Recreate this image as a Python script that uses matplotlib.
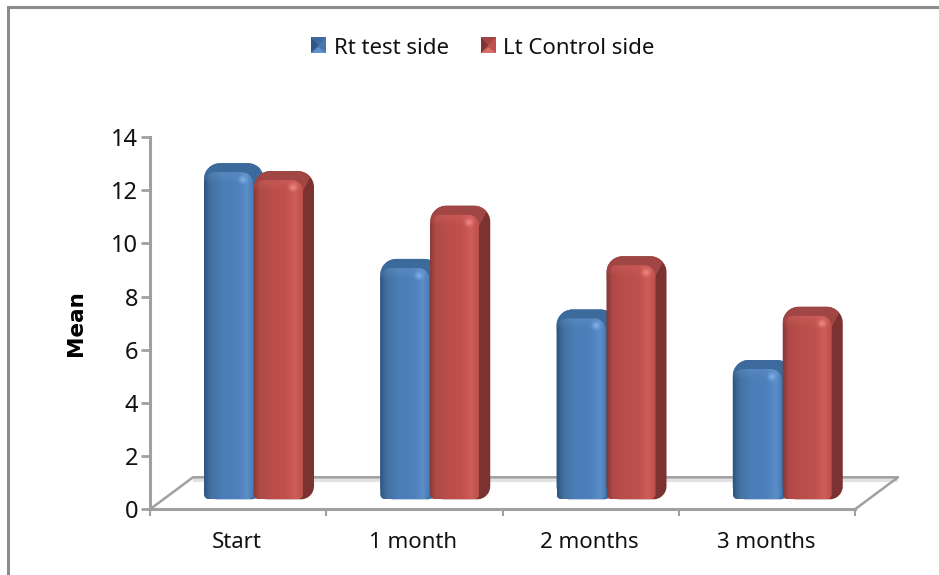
import numpy as np
import matplotlib
matplotlib.use("Agg")
import matplotlib.pyplot as plt
from matplotlib.path import Path
from matplotlib.patches import PathPatch, Polygon
from matplotlib.lines import Line2D

categories = ["Start", "1 month", "2 months", "3 months"]
rt_test = [12.3, 8.7, 6.8, 4.9]
lt_control = [12.0, 10.7, 8.8, 6.9]
series_names = ["Rt test side", "Lt Control side"]
y_ticks = [0, 2, 4, 6, 8, 10, 12, 14]

W, H = 939, 575
L, R, T, B = 150, 855, 137, 509.3
plt.rcParams['font.family'] = ['Noto Sans', 'DejaVu Sans']
fig = plt.figure(figsize=(W/100, H/100), dpi=100, facecolor='white')

# outer frame: only top and left edges are visible
fig.add_artist(Line2D([7.5/W, 7.5/W, 1], [0, 1-6.5/H, 1-6.5/H], color='#8c8c8c', lw=2.2,
                      solid_joinstyle='miter'))

ax = fig.add_axes([L/W, 1-B/H, (R-L)/W, (B-T)/H])
ax.set_xlim(0, 4); ax.set_ylim(0, 14)
ax.set_facecolor('none')

px = 4/(R-L)          # data per pixel, x
py = 14/(B-T)         # data per pixel, y
GRAY = '#a0a0a0'

# 3D floor
floor_dx, floor_dy = 43*px, 32*py
ax.plot([floor_dx, 4+floor_dx], [floor_dy-3*py]*2, color='#e2e2e2', lw=3, clip_on=False, zorder=1.1, solid_capstyle='butt')
ax.plot([0, floor_dx, 4+floor_dx, 4], [0, floor_dy, floor_dy, 0], color=GRAY, lw=1.8, clip_on=False, zorder=1.2)


def rounded(x0, x1, y0, y1, rt=11, rb=5):
    """Rounded box path in data coordinates; radii in pixels."""
    rtx, rty, rbx, rby = rt*px, rt*py, rb*px, rb*py
    k = 0.45
    v = [(x0+rbx, y0), (x1-rbx, y0),
         (x1-rbx*k, y0), (x1, y0+rby*k), (x1, y0+rby),
         (x1, y1-rty),
         (x1, y1-rty*k), (x1-rtx*k, y1), (x1-rtx, y1),
         (x0+rtx, y1),
         (x0+rtx*k, y1), (x0, y1-rty*k), (x0, y1-rty),
         (x0, y0+rby),
         (x0, y0+rby*k), (x0+rbx*k, y0), (x0+rbx, y0), (x0+rbx, y0)]
    c = [Path.MOVETO, Path.LINETO, Path.CURVE4, Path.CURVE4, Path.CURVE4, Path.LINETO,
         Path.CURVE4, Path.CURVE4, Path.CURVE4, Path.LINETO,
         Path.CURVE4, Path.CURVE4, Path.CURVE4, Path.LINETO,
         Path.CURVE4, Path.CURVE4, Path.CURVE4, Path.CLOSEPOLY]
    return Path(v, c)


def front_gradient(colors, stops):
    xs = np.linspace(0, 1, 100)
    rgb = np.array([matplotlib.colors.to_rgb(c) for c in colors])
    return np.stack([np.interp(xs, stops, rgb[:, i]) for i in range(3)], axis=1)[None, :, :]


def draw_bar(x0, val, palette, z):
    w = 49*px
    base = 10*py
    dx, dy = 11*px, 9*py
    top = base + val
    x1 = x0 + w
    # silhouette of the extruded body, dark side colour
    sil = PathPatch(rounded(x0, x1+dx, base, top+dy, rt=16, rb=13),
                    fc=palette['side'], ec='none', zorder=z)
    ax.add_patch(sil)
    # lighter top face, clipped to the silhouette
    cap = Polygon([(x0, top-14*py), (x0, top+dy+py), (x1+dx, top+dy+py), (x1, top-11*py)],
                  closed=True, fc=palette['cap'], ec='none', zorder=z+0.1)
    ax.add_patch(cap)
    cap.set_clip_path(sil.get_path(), sil.get_transform())
    # front face with horizontal shading
    front = PathPatch(rounded(x0, x1, base, top, rt=11, rb=5), fc='none', ec='none', zorder=z+0.2)
    ax.add_patch(front)
    im = ax.imshow(front_gradient(palette['grad'], palette['stops']),
                   extent=[x0, x1, base, top], aspect='auto', origin='lower',
                   zorder=z+0.3, interpolation='bilinear')
    im.set_clip_path(front)
    # bevel band along the top
    n = 40
    hl = np.zeros((n, 1, 4))
    hl[..., :3] = matplotlib.colors.to_rgb(palette['hi'])
    hl[..., 3] = np.linspace(0, 0.35, n)[:, None]
    im2 = ax.imshow(hl, extent=[x0, x1, top-12*py, top], aspect='auto', origin='lower',
                    zorder=z+0.4, interpolation='bilinear')
    im2.set_clip_path(front)
    # specular spot in the upper right corner
    g = np.linspace(-1, 1, 31)
    gx, gy = np.meshgrid(g, g)
    spot = np.zeros((31, 31, 4))
    spot[..., :3] = matplotlib.colors.to_rgb(palette['spot'])
    spot[..., 3] = np.exp(-(gx**2+gy**2)*3.5)*0.95
    ax.imshow(spot, extent=[x1-17*px, x1-3*px, top-14*py, top-1*py], aspect='auto',
              origin='lower', zorder=z+0.5, interpolation='bilinear')
    ax.set_xlim(0, 4); ax.set_ylim(0, 14)


BLUE = dict(side='#3f6d9f', cap='#3d6a9c', hi='#6d9ad0', spot='#7fb0ea',
            grad=['#2f5580', '#44719f', '#4a7cb6', '#4f80bb', '#5b8fca', '#4a7cb6'],
            stops=[0, 0.14, 0.35, 0.7, 0.88, 1])
RED = dict(side='#7c3230', cap='#a04644', hi='#d96a66', spot='#f08a86',
           grad=['#8a3a38', '#b04a47', '#b94e4b', '#c0504d', '#cf5c58', '#bb4f4c'],
           stops=[0, 0.12, 0.35, 0.65, 0.85, 1])

offs = [54*px, 104*px]
for i, (a, b) in enumerate(zip(rt_test, lt_control)):
    draw_bar(i+offs[0], a, BLUE, 3+i*2)
    draw_bar(i+offs[1], b, RED, 4+i*2)

# axes
for s in ('top', 'right'):
    ax.spines[s].set_visible(False)
for s in ('left', 'bottom'):
    ax.spines[s].set_color(GRAY); ax.spines[s].set_linewidth(2.2); ax.spines[s].set_zorder(20)
ax.set_yticks(y_ticks)
ax.set_xticks(range(5)); ax.set_xticklabels([])
ax.tick_params(axis='y', length=6.5, width=2, color=GRAY, labelsize=17, pad=2, labelcolor='#111111')
ax.tick_params(axis='x', length=5, width=1.5, color=GRAY)
for i, c in enumerate(categories):
    ax.annotate(c, xy=(i+0.5, 0), xycoords='data', xytext=(-1, -33), textcoords='offset pixels',
                ha='center', va='center', fontsize=16, color='#111111')
fig.text(76/W, 1-323/H, 'Mean', rotation=90, ha='center', va='center', fontsize=15.5,
         fontweight='bold', color='black', family='DejaVu Sans')


# legend
def legend_key(x, y, col, dark, mid, light):
    sx, sy = 15, 16
    kx = fig.add_axes([x/W, 1-(y+sy/2)/H, sx/W, sy/H]); kx.axis('off')
    kx.set_xlim(0, 1); kx.set_ylim(0, 1)
    kx.add_patch(Polygon([(0, 0), (1, 0), (1, 1), (0, 1)], fc=col, ec='none'))
    kx.add_patch(Polygon([(0, 0), (0, 1), (.5, .5)], fc=dark, ec='none'))
    kx.add_patch(Polygon([(0, 1), (1, 1), (.5, .5)], fc=mid, ec='none'))
    kx.add_patch(Polygon([(0, 0), (1, 0), (.5, .35)], fc=light, ec='none'))

legend_key(311, 45, '#4a78ae', '#2f5580', '#3d6a9c', '#5f92cc')
legend_key(481, 45, '#c0504d', '#7e3432', '#a04644', '#d4706c')
fig.text(334/W, 1-48/H, series_names[0], ha='left', va='center', fontsize=16, color='#111111')
fig.text(503/W, 1-48/H, series_names[1], ha='left', va='center', fontsize=16, color='#111111')

fig.savefig('out.png', dpi=100, facecolor='white')
